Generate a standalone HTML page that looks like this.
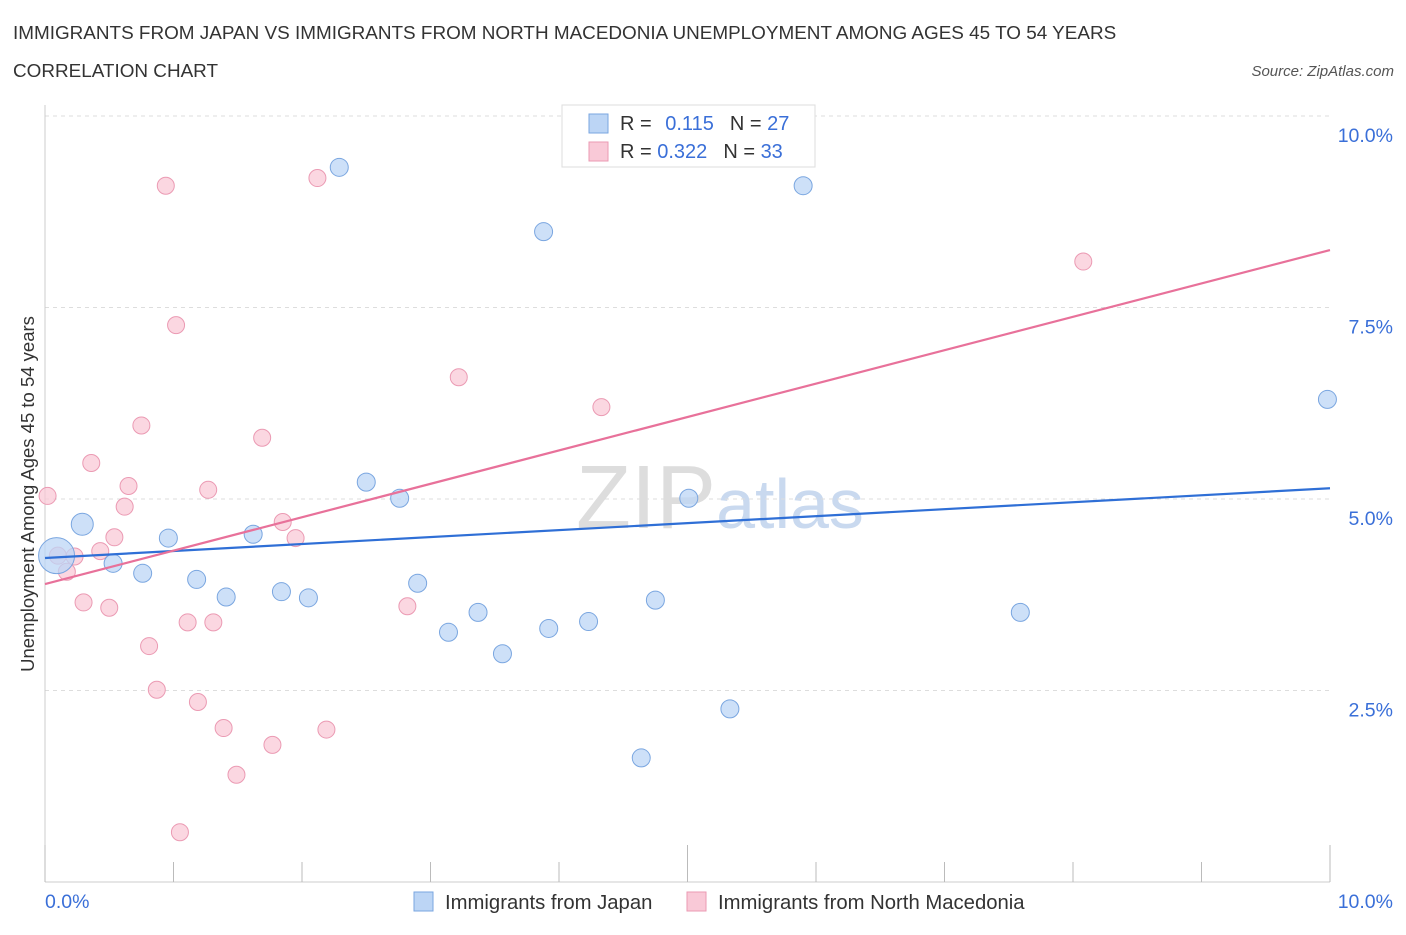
<!DOCTYPE html>
<html><head><meta charset="utf-8"><style>
body{margin:0;background:#fff;font-family:"Liberation Sans",sans-serif;}
svg text{font-family:"Liberation Sans",sans-serif;}
</style></head><body>
<svg id="c" width="1406" height="930" xmlns="http://www.w3.org/2000/svg">
<text x="13" y="39" font-size="18.9" fill="#333">IMMIGRANTS FROM JAPAN VS IMMIGRANTS FROM NORTH MACEDONIA UNEMPLOYMENT AMONG AGES 45 TO 54 YEARS</text>
<text x="13" y="77" font-size="18.9" fill="#333">CORRELATION CHART</text>
<text x="1394" y="76" font-size="15" fill="#555" font-style="italic" text-anchor="end">Source: ZipAtlas.com</text>
<text x="720" y="528" font-size="90" fill="#ddd" text-anchor="middle" font-family="Liberation Serif">ZIP<tspan fill="#c9d9ef" font-family="Liberation Sans" font-size="70">atlas</tspan></text>
<g id="grid"></g>
<g id="axes"></g>
<text transform="translate(34,494) rotate(-90)" font-size="18.5" fill="#333" text-anchor="middle">Unemployment Among Ages 45 to 54 years</text>
<g id="marks"></g>
<g>
<rect x="562" y="105" width="253" height="62" fill="#fff" stroke="#ddd"/>
<rect x="589" y="114" width="19" height="19" fill="#bcd5f5" stroke="#7aa6e0"/>
<text x="620" y="130" font-size="20" fill="#333">R = <tspan fill="#3a6fd8" dx="8">0.115</tspan><tspan dx="16" fill="#333">N = </tspan><tspan fill="#3a6fd8">27</tspan></text>
<rect x="589" y="142" width="19" height="19" fill="#f9c9d7" stroke="#eb9ab3"/>
<text x="620" y="158" font-size="20" fill="#333">R = <tspan fill="#3a6fd8">0.322</tspan><tspan dx="16" fill="#333">N = </tspan><tspan fill="#3a6fd8">33</tspan></text>
</g>
<g>
<rect x="414" y="892" width="19" height="19" fill="#bcd5f5" stroke="#7aa6e0"/>
<text x="445" y="909" font-size="20.3" fill="#333">Immigrants from Japan</text>
<rect x="687" y="892" width="19" height="19" fill="#f9c9d7" stroke="#eb9ab3"/>
<text x="718" y="909" font-size="20.3" fill="#333">Immigrants from North Macedonia</text>
</g>
</svg>
<script>
const yTicks=[2.5,5.0,7.5,10.0];
const yTickLabels=["2.5%","5.0%","7.5%","10.0%"];
const japanX=[0.09,0.29,0.53,0.76,0.96,1.18,1.41,1.62,1.84,2.05,2.29,2.50,2.76,2.90,3.14,3.37,3.56,3.88,3.92,4.23,4.64,4.75,5.01,5.33,5.90,7.59,9.98];
const japanY=[4.26,4.67,4.16,4.03,4.49,3.95,3.72,4.54,3.79,3.71,9.33,5.22,5.01,3.90,3.26,3.52,2.98,8.49,3.31,3.40,1.62,3.68,5.01,2.26,9.09,3.52,6.30];
const japanR=[18,11,9,9,9,9,9,9,9,9,9,9,9,9,9,9,9,9,9,9,9,9,9,9,9,9,9];
const macX=[0.02,0.10,0.17,0.23,0.30,0.36,0.43,0.50,0.54,0.62,0.65,0.75,0.81,0.87,0.94,1.02,1.05,1.11,1.19,1.27,1.31,1.39,1.49,1.69,1.77,1.85,1.95,2.12,2.19,2.82,3.22,4.33,8.08];
const macY=[5.04,4.26,4.05,4.25,3.65,5.47,4.32,3.58,4.50,4.90,5.17,5.96,3.08,2.51,9.09,7.27,0.65,3.39,2.35,5.12,3.39,2.01,1.40,5.80,1.79,4.70,4.49,9.19,1.99,3.60,6.59,6.20,8.10];
const japanTrend=[4.23,5.14];
const macTrend=[3.89,8.25];
const NS="http://www.w3.org/2000/svg";
const X=v=>45+v*128.5, Y=v=>882-v*76.6;
function mk(tag,at,parent){const e=document.createElementNS(NS,tag);for(const k in at)e.setAttribute(k,at[k]);document.getElementById(parent).appendChild(e);return e;}
yTicks.forEach((t,i)=>{
 const l=mk('line',{x1:45,x2:1330,y1:Y(t),y2:Y(t),stroke:'#ddd','stroke-dasharray':'4,4'},'grid');
 
 
 const tx=mk('text',{x:1393,y:Y(t)+26,'font-size':19.5,fill:'#3a6fd8','text-anchor':'end'},'grid');tx.textContent=yTickLabels[i];
 
 
});
const ax=mk('line',{x1:45,x2:1330,y1:882,y2:882,stroke:'#ccc'},'axes');


const ay=mk('line',{x1:45,x2:45,y1:105,y2:882,stroke:'#ccc'},'axes');


for(let i=0;i<=10;i++){const t=mk('line',{x1:X(i),x2:X(i),y1:882,y2:i%5==0?845:862,stroke:'#bbb'},'axes');
 
 }
[["0.0%",45,"start"],["10.0%",1393,"end"]].forEach(a=>{const t=mk('text',{x:a[1],y:908,'font-size':19.5,fill:'#3a6fd8','text-anchor':a[2]},'axes');t.textContent=a[0];
 
 });
macX.forEach((x,i)=>{const c=mk('circle',{cx:X(x),cy:Y(macY[i]),r:8.5,fill:'#f9c9d7','fill-opacity':0.75,stroke:'#eb9ab3'},'marks');
 
 });
japanX.forEach((x,i)=>{const c=mk('circle',{cx:X(x),cy:Y(japanY[i]),r:japanR[i],fill:'#bcd5f5','fill-opacity':0.75,stroke:'#7aa6e0'},'marks');
 
 });
const l1=mk('line',{x1:X(0),y1:Y(japanTrend[0]),x2:X(10),y2:Y(japanTrend[1]),stroke:'#2f6fd6','stroke-width':2.2},'marks');


const l2=mk('line',{x1:X(0),y1:Y(macTrend[0]),x2:X(10),y2:Y(macTrend[1]),stroke:'#e8719a','stroke-width':2.2},'marks');


</script>
</body></html>
